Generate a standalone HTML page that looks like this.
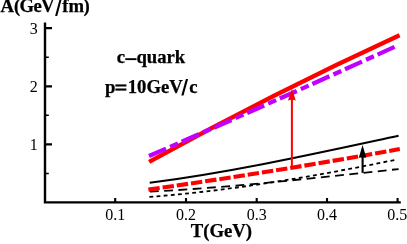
<!DOCTYPE html>
<html><head><meta charset="utf-8">
<style>
html,body{margin:0;padding:0;background:#fff;}
body{width:407px;height:244px;overflow:hidden;}
svg{display:block;will-change:transform;}
text{font-family:"Liberation Serif",serif;fill:#000;}
.b{font-weight:bold;font-size:18.7px;stroke:#000;stroke-width:0.25px;}
.t{font-size:16px;}
</style></head><body>
<svg width="407" height="244" viewBox="0 0 407 244">
<rect width="407" height="244" fill="#fff"/>
<!-- curves -->
<g fill="none" stroke-linecap="butt">
<path d="M149.40,196.93 C231.03,190.65 312.67,176.72 394.30,160.05" stroke="#000" stroke-width="1.8" stroke-dasharray="3.85 3.325"/>
<path d="M149.90,191.70 C232.80,187.24 315.70,177.96 398.60,169.03" stroke="#000" stroke-width="1.8" stroke-dasharray="8.85 5.45"/>
<path d="M149.70,182.71 C232.67,172.06 315.63,153.46 398.60,135.68" stroke="#000" stroke-width="2"/>
<path d="M148.40,189.61 Q274.10,171.84 399.80,149.05" stroke="#f00" stroke-width="4.1" stroke-dasharray="11.4 2.95"/>
<path d="M149.10,161.86 C232.60,115.70 316.10,73.48 399.60,35.20" stroke="#f00" stroke-width="4.3"/>
<path d="M149.00,156.07 C231.67,120.12 314.33,83.36 397.00,45.79" stroke="#c000ff" stroke-width="4.3" stroke-dasharray="18.65 4.42 8.62 4.04"/>
</g>
<!-- arrows -->
<path d="M291.9,166.5 V99" stroke="#f00" stroke-width="2" fill="none"/>
<path d="M291.9,88.8 L295.8,100.4 L291.9,99.6 L288,100.4 Z" fill="#f00"/>
<path d="M362.6,172.9 V157" stroke="#000" stroke-width="2.1" fill="none"/>
<path d="M362.55,144.9 L366.3,157.8 L362.55,157.2 L358.8,157.8 Z" fill="#000"/>
<!-- axes -->
<g stroke="#000" fill="none">
<path d="M45,22.4 V202.4 H400.8" stroke-width="2.4" stroke-linejoin="miter"/>
<path d="M45,28.2 H52 M45,86.3 H52 M45,144.3 H52" stroke-width="2.2"/>
<path d="M45,57.3 H48.8 M45,115.3 H48.8 M45,173.4 H48.8" stroke-width="1.5"/>
<path d="M115.2,202 V197.9 M186,202 V197.9 M256.7,202 V197.9 M327,202 V197.9 M397.6,202 V197.9" stroke-width="2.1"/>
</g>
<!-- labels -->
<text class="b" x="0.4 13.88 19.52 33.47 41.05 62.2 68.4 83.46" y="12.3">A(GeVfm)</text><path d="M55.1,15.9 L57.2,15.9 L61.6,-0.5 L59.5,-0.5 Z" fill="#000"/>
<text class="t" x="29.7" y="33.6">3</text>
<text class="t" x="29.7" y="91.7">2</text>
<text class="t" x="29.7" y="149.7">1</text>
<text class="t" x="105.2" y="219.9">0.1</text>
<text class="t" x="176" y="219.9">0.2</text>
<text class="t" x="246.7" y="219.9">0.3</text>
<text class="t" x="317" y="219.9">0.4</text>
<text class="t" x="387.3" y="219.9">0.5</text>
<text class="b" x="190.8" y="237.1">T(GeV)</text>
<text class="b" x="116.7" y="63.3">c</text><rect x="125.3" y="58.2" width="11.2" height="1.9" fill="#000"/><text class="b" x="136.4" y="63.3">quark</text>
<text class="b" x="104.9" y="92.8">p</text><rect x="115.4" y="84.4" width="11" height="2.1" fill="#000"/><rect x="115.4" y="88.5" width="11" height="2.1" fill="#000"/><text class="b" x="127.7 137.04 146.39 160.92 169.22 189.22" y="92.8">10GeVc</text><path d="M181.3,95.6 L183.5,95.6 L188.1,78.9 L185.9,78.9 Z" fill="#000"/>
</svg>
</body></html>
